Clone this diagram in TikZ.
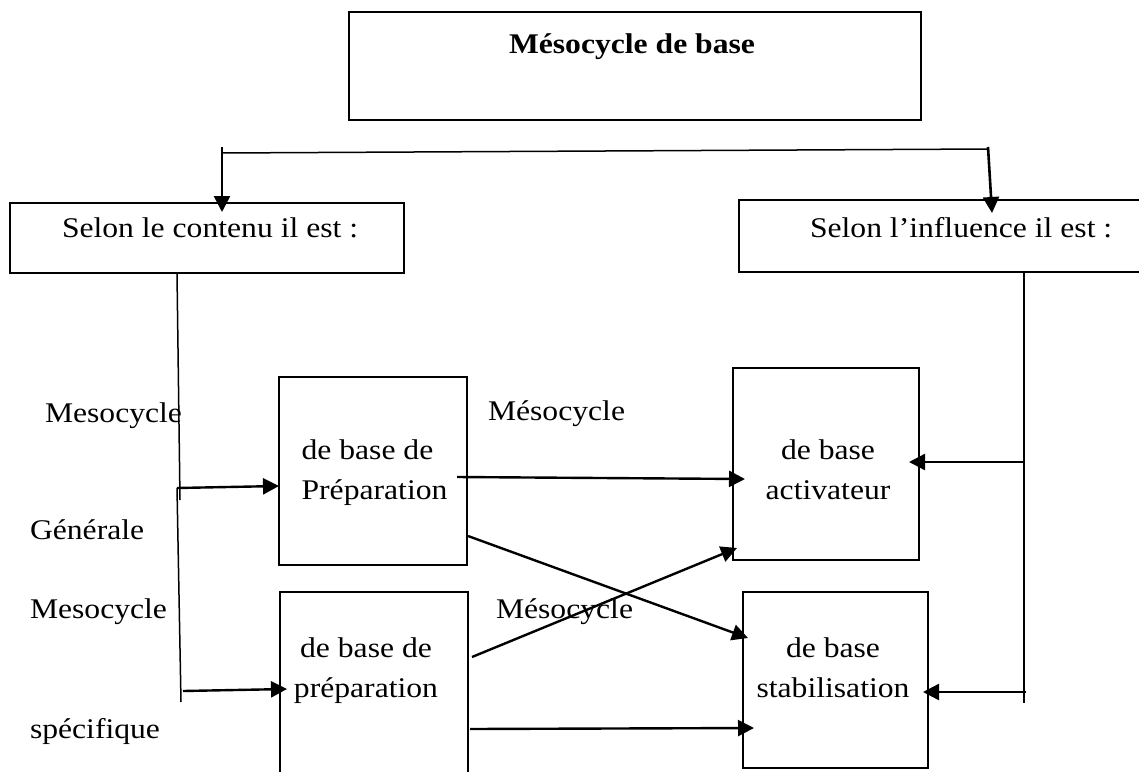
\documentclass[tikz,border=0pt]{standalone}
\usepackage{fontspec}
\setmainfont{Liberation Serif}[FakeStretch=1.11]
\usetikzlibrary{arrows.meta,calc}
\begin{document}
\begin{tikzpicture}[x=1pt,y=-1pt,
  box/.style={draw, line width=2.8pt, inner sep=0pt, outer sep=0pt},
  txt/.style={inner sep=0pt, outer sep=0pt, font=\fontsize{28.5}{40}\selectfont},
  thinline/.style={line width=1.5pt},
  arr/.style={line width=2.4pt, -{Triangle[length=16pt,width=16pt]}},
]
\useasboundingbox (0,0) rectangle (1139,771);
\clip (0,0) rectangle (1139,771);
\fill[white] (0,0) rectangle (1139,771);

% boxes
\node[box, minimum width=572pt, minimum height=108pt] (top) at (635,66) {};
\node[box, minimum width=394pt, minimum height=70pt] (cont) at (207,238) {};
\node[box, minimum width=444pt, minimum height=72pt] (infl) at (961,236) {};
\node[box, minimum width=188pt, minimum height=188pt] (pA) at (373,471) {};
\node[box, minimum width=188pt, minimum height=210pt] (pB) at (374,697) {};
\node[box, minimum width=186pt, minimum height=192pt] (act) at (826,464) {};
\node[box, minimum width=185pt, minimum height=176pt] (stab) at (835.5,680) {};

% texts
\node[txt, anchor=base west, font=\fontsize{28.5}{40}\selectfont\bfseries] (title) at (509,53) {Mésocycle de base};
\node[txt, anchor=base west] (tcont) at (62,237) {Selon le contenu il est :};
\node[txt, anchor=base west] (tinfl) at (810,237) {Selon l’influence il est :};
\node[txt, anchor=base west] (m1) at (45,422) {Mesocycle};
\node[txt, anchor=base west] (g1) at (30,539) {Générale};
\node[txt, anchor=base west] (m2) at (30,618) {Mesocycle};
\node[txt, anchor=base west] (s1) at (30,738) {spécifique};
\node[txt, anchor=base west] (m3) at (488,420) {Mésocycle};
\node[txt, anchor=base west] (m4) at (496,618) {Mésocycle};
\node[txt, align=left] (tA) at (374.5,473) {de base de\\Préparation};
\node[txt, align=center] (tB) at (366,670.4) {de base de\\préparation};
\node[txt, align=center] (tact) at (828,469.8) {de base\\activateur};
\node[txt, align=center] (tstab) at (833,668) {de base\\stabilisation};

% top connectors
\coordinate (jl) at (222,153);
\coordinate (jr) at (988,149);
\draw[thinline] (jl) -- (jr);
\draw[arr, line width=2.6pt] ($(jl)+(0,-6)$) -- ($(cont.north -| jl)+(0,9)$);
\draw[arr, line width=2.6pt] ($(jr)+(0,-2)$) -- ($(infl.north -| jr)+(4,13)$);

% left trunk
\coordinate (b1) at (177,488);
\coordinate (b3) at (181,702);
\coordinate (b2) at (183,691);
\draw[thinline] ($(cont.south)+(-30,0)$) -- ++(3,227);
\draw[thinline] (b1) -- (b3);
\draw[arr] (b1) -- ($(pA.west)+(0,15)$);
\draw[arr] (b2) -- ($(pB.west)+(7,-8)$);

% middle arrows
\draw[arr] ($(pA.east)+(-10,6)$) -- ($(act.west)+(12,15)$);
\draw[arr] ($(pA.east)+(1,65)$) -- ($(stab.west)+(5,-42)$);
\draw[arr] ($(pB.east)+(4,-40)$) -- ($(act.south west)+(4,-12)$);
\draw[arr] ($(pB.east)+(2,32)$) -- ($(stab.west)+(11,48)$);

% right trunk
\coordinate (r1) at (1024,462);
\coordinate (r2) at (1026,692);
\draw[thinline] ($(infl.south)+(63,0)$) -- ++(0,431);
\draw[arr] (r1) -- ($(act.east)+(-10,-2)$);
\draw[arr] (r2) -- ($(stab.east)+(-5,12)$);
\end{tikzpicture}
\end{document}
